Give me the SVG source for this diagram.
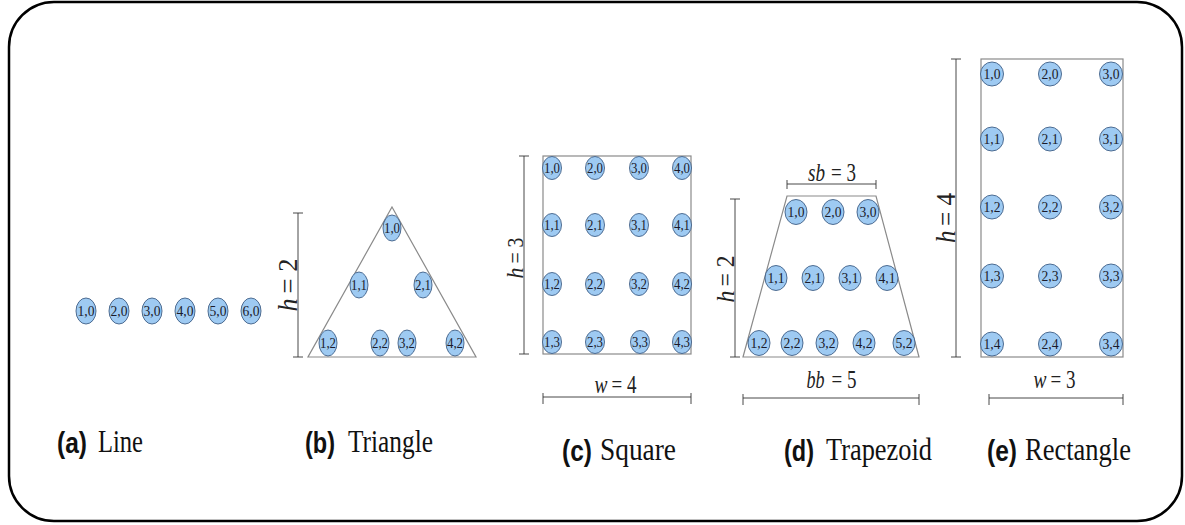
<svg xmlns="http://www.w3.org/2000/svg" width="1185" height="525" viewBox="0 0 1185 525">
<style>
.node ellipse{fill:#9ecaf2;stroke:#3f5f86;stroke-width:0.9}
.node text{font-family:"Liberation Serif",serif;font-size:15px;fill:#1b1b2b;text-anchor:middle;dominant-baseline:central}
.shape{fill:none;stroke:#8a8a8a;stroke-width:1.2}
.dim{stroke:#333;stroke-width:0.9;fill:none}
.math{font-family:"Liberation Serif",serif;fill:#222}
.var{font-style:italic;text-anchor:end}
.cap{font-family:"Liberation Serif",serif;font-size:32px;fill:#111}
.lab{font-family:"Liberation Sans",sans-serif;font-weight:bold;font-size:29px;fill:#111}
</style>
<rect x="9" y="2" width="1173" height="519" rx="45" ry="45" fill="#fff" stroke="#000" stroke-width="2.5"/>

<g id="shapes">
<polygon class="shape" points="392,207 476,357 308,357"/>
<rect class="shape" x="543" y="156" width="148" height="198"/>
<polygon class="shape" points="787,196 876,196 919,357 743,357"/>
<rect class="shape" x="981" y="59" width="142" height="298"/>
</g>

<g id="connectors">
<path class="dim" d="M298,213 V357 M293,213 H303 M293,357 H303"/>
<path class="dim" d="M524,156 V354 M519,156 H529 M519,354 H529"/>
<path class="dim" d="M543,397 H691 M543,393 V404 M691,393 V404"/>
<path class="dim" d="M787,184 H876 M787,180 V189 M876,180 V189"/>
<path class="dim" d="M735,199 V357 M730,199 H740 M730,357 H740"/>
<path class="dim" d="M743,398 H919 M743,394 V405 M919,394 V405"/>
<path class="dim" d="M956,59 V357 M951,59 H961 M951,357 H961"/>
<path class="dim" d="M989,398 H1123 M989,394 V405 M1123,394 V405"/>
</g>

<g id="dim-labels">
<g transform="translate(297,285) rotate(-90)" class="math" font-size="28">
<text class="var" x="-13.5" y="0" textLength="13" lengthAdjust="spacingAndGlyphs">h</text>
<text x="-8.5" y="0" textLength="35" lengthAdjust="spacingAndGlyphs">= 2</text>
</g>
<g transform="translate(523,258) rotate(-90)" class="math" font-size="24">
<text class="var" x="-9.5" y="0" textLength="11" lengthAdjust="spacingAndGlyphs">h</text>
<text x="-5.5" y="0" textLength="26" lengthAdjust="spacingAndGlyphs">= 3</text>
</g>
<g transform="translate(734,279) rotate(-90)" class="math" font-size="26">
<text class="var" x="-11.5" y="0" textLength="12" lengthAdjust="spacingAndGlyphs">h</text>
<text x="-7.5" y="0" textLength="31" lengthAdjust="spacingAndGlyphs">= 2</text>
</g>
<g transform="translate(955,218) rotate(-90)" class="math" font-size="27">
<text class="var" x="-12.5" y="0" textLength="12.5" lengthAdjust="spacingAndGlyphs">h</text>
<text x="-8" y="0" textLength="33" lengthAdjust="spacingAndGlyphs">= 4</text>
</g>
<g class="math" font-size="25">
<text class="var" x="607.5" y="393" textLength="13" lengthAdjust="spacingAndGlyphs">w</text>
<text x="611.5" y="393" textLength="25" lengthAdjust="spacingAndGlyphs">= 4</text>
<text class="var" x="825" y="181" textLength="17" lengthAdjust="spacingAndGlyphs">sb</text>
<text x="831" y="181" textLength="25" lengthAdjust="spacingAndGlyphs">= 3</text>
<text class="var" x="824.5" y="388" textLength="18" lengthAdjust="spacingAndGlyphs">bb</text>
<text x="831.5" y="388" textLength="25" lengthAdjust="spacingAndGlyphs">= 5</text>
<text class="var" x="1046.5" y="388" textLength="13" lengthAdjust="spacingAndGlyphs">w</text>
<text x="1050.5" y="388" textLength="25" lengthAdjust="spacingAndGlyphs">= 3</text>
</g>
</g>

<g id="a-1-0" class="node"><ellipse cx="86" cy="311" rx="10" ry="13"/><text x="86" y="311" textLength="17" lengthAdjust="spacingAndGlyphs">1,0</text></g>
<g id="a-2-0" class="node"><ellipse cx="119" cy="311" rx="10" ry="13"/><text x="119" y="311" textLength="17" lengthAdjust="spacingAndGlyphs">2,0</text></g>
<g id="a-3-0" class="node"><ellipse cx="152" cy="311" rx="10" ry="13"/><text x="152" y="311" textLength="17" lengthAdjust="spacingAndGlyphs">3,0</text></g>
<g id="a-4-0" class="node"><ellipse cx="185" cy="311" rx="10" ry="13"/><text x="185" y="311" textLength="17" lengthAdjust="spacingAndGlyphs">4,0</text></g>
<g id="a-5-0" class="node"><ellipse cx="218" cy="311" rx="10" ry="13"/><text x="218" y="311" textLength="17" lengthAdjust="spacingAndGlyphs">5,0</text></g>
<g id="a-6-0" class="node"><ellipse cx="251" cy="311" rx="10" ry="13"/><text x="251" y="311" textLength="17" lengthAdjust="spacingAndGlyphs">6,0</text></g>

<g id="b-1-0" class="node"><ellipse cx="392" cy="228" rx="9" ry="13"/><text x="392" y="228" textLength="16" lengthAdjust="spacingAndGlyphs">1,0</text></g>
<g id="b-1-1" class="node"><ellipse cx="359" cy="285" rx="9" ry="13"/><text x="359" y="285" textLength="16" lengthAdjust="spacingAndGlyphs">1,1</text></g>
<g id="b-2-1" class="node"><ellipse cx="423" cy="285" rx="9" ry="13"/><text x="423" y="285" textLength="16" lengthAdjust="spacingAndGlyphs">2,1</text></g>
<g id="b-1-2" class="node"><ellipse cx="328" cy="343" rx="9" ry="13"/><text x="328" y="343" textLength="16" lengthAdjust="spacingAndGlyphs">1,2</text></g>
<g id="b-2-2" class="node"><ellipse cx="380" cy="343" rx="9" ry="13"/><text x="380" y="343" textLength="16" lengthAdjust="spacingAndGlyphs">2,2</text></g>
<g id="b-3-2" class="node"><ellipse cx="407" cy="343" rx="9" ry="13"/><text x="407" y="343" textLength="16" lengthAdjust="spacingAndGlyphs">3,2</text></g>
<g id="b-4-2" class="node"><ellipse cx="455" cy="343" rx="9" ry="13"/><text x="455" y="343" textLength="16" lengthAdjust="spacingAndGlyphs">4,2</text></g>

<g id="c-1-0" class="node"><ellipse cx="552" cy="168" rx="9.5" ry="11.5"/><text x="552" y="168" textLength="16" lengthAdjust="spacingAndGlyphs">1,0</text></g>
<g id="c-2-0" class="node"><ellipse cx="595" cy="168" rx="9.5" ry="11.5"/><text x="595" y="168" textLength="16" lengthAdjust="spacingAndGlyphs">2,0</text></g>
<g id="c-3-0" class="node"><ellipse cx="639" cy="168" rx="9.5" ry="11.5"/><text x="639" y="168" textLength="16" lengthAdjust="spacingAndGlyphs">3,0</text></g>
<g id="c-4-0" class="node"><ellipse cx="682" cy="168" rx="9.5" ry="11.5"/><text x="682" y="168" textLength="16" lengthAdjust="spacingAndGlyphs">4,0</text></g>
<g id="c-1-1" class="node"><ellipse cx="552" cy="225" rx="9.5" ry="11.5"/><text x="552" y="225" textLength="16" lengthAdjust="spacingAndGlyphs">1,1</text></g>
<g id="c-2-1" class="node"><ellipse cx="595" cy="225" rx="9.5" ry="11.5"/><text x="595" y="225" textLength="16" lengthAdjust="spacingAndGlyphs">2,1</text></g>
<g id="c-3-1" class="node"><ellipse cx="639" cy="225" rx="9.5" ry="11.5"/><text x="639" y="225" textLength="16" lengthAdjust="spacingAndGlyphs">3,1</text></g>
<g id="c-4-1" class="node"><ellipse cx="682" cy="225" rx="9.5" ry="11.5"/><text x="682" y="225" textLength="16" lengthAdjust="spacingAndGlyphs">4,1</text></g>
<g id="c-1-2" class="node"><ellipse cx="552" cy="284" rx="9.5" ry="11.5"/><text x="552" y="284" textLength="16" lengthAdjust="spacingAndGlyphs">1,2</text></g>
<g id="c-2-2" class="node"><ellipse cx="595" cy="284" rx="9.5" ry="11.5"/><text x="595" y="284" textLength="16" lengthAdjust="spacingAndGlyphs">2,2</text></g>
<g id="c-3-2" class="node"><ellipse cx="639" cy="284" rx="9.5" ry="11.5"/><text x="639" y="284" textLength="16" lengthAdjust="spacingAndGlyphs">3,2</text></g>
<g id="c-4-2" class="node"><ellipse cx="682" cy="284" rx="9.5" ry="11.5"/><text x="682" y="284" textLength="16" lengthAdjust="spacingAndGlyphs">4,2</text></g>
<g id="c-1-3" class="node"><ellipse cx="552" cy="342" rx="9.5" ry="11.5"/><text x="552" y="342" textLength="16" lengthAdjust="spacingAndGlyphs">1,3</text></g>
<g id="c-2-3" class="node"><ellipse cx="595" cy="342" rx="9.5" ry="11.5"/><text x="595" y="342" textLength="16" lengthAdjust="spacingAndGlyphs">2,3</text></g>
<g id="c-3-3" class="node"><ellipse cx="640" cy="342" rx="9.5" ry="11.5"/><text x="640" y="342" textLength="16" lengthAdjust="spacingAndGlyphs">3,3</text></g>
<g id="c-4-3" class="node"><ellipse cx="682" cy="342" rx="9.5" ry="11.5"/><text x="682" y="342" textLength="16" lengthAdjust="spacingAndGlyphs">4,3</text></g>

<g id="d-1-0" class="node"><ellipse cx="796" cy="212" rx="11" ry="12.5"/><text x="796" y="212" textLength="17" lengthAdjust="spacingAndGlyphs">1,0</text></g>
<g id="d-2-0" class="node"><ellipse cx="833" cy="212" rx="11" ry="12.5"/><text x="833" y="212" textLength="17" lengthAdjust="spacingAndGlyphs">2,0</text></g>
<g id="d-3-0" class="node"><ellipse cx="868" cy="212" rx="11" ry="12.5"/><text x="868" y="212" textLength="17" lengthAdjust="spacingAndGlyphs">3,0</text></g>
<g id="d-1-1" class="node"><ellipse cx="776" cy="278" rx="11" ry="12.5"/><text x="776" y="278" textLength="17" lengthAdjust="spacingAndGlyphs">1,1</text></g>
<g id="d-2-1" class="node"><ellipse cx="813" cy="278" rx="11" ry="12.5"/><text x="813" y="278" textLength="17" lengthAdjust="spacingAndGlyphs">2,1</text></g>
<g id="d-3-1" class="node"><ellipse cx="850" cy="278" rx="11" ry="12.5"/><text x="850" y="278" textLength="17" lengthAdjust="spacingAndGlyphs">3,1</text></g>
<g id="d-4-1" class="node"><ellipse cx="887" cy="278" rx="11" ry="12.5"/><text x="887" y="278" textLength="17" lengthAdjust="spacingAndGlyphs">4,1</text></g>
<g id="d-1-2" class="node"><ellipse cx="759" cy="343" rx="11" ry="12.5"/><text x="759" y="343" textLength="17" lengthAdjust="spacingAndGlyphs">1,2</text></g>
<g id="d-2-2" class="node"><ellipse cx="792" cy="343" rx="11" ry="12.5"/><text x="792" y="343" textLength="17" lengthAdjust="spacingAndGlyphs">2,2</text></g>
<g id="d-3-2" class="node"><ellipse cx="827" cy="343" rx="11" ry="12.5"/><text x="827" y="343" textLength="17" lengthAdjust="spacingAndGlyphs">3,2</text></g>
<g id="d-4-2" class="node"><ellipse cx="864" cy="343" rx="11" ry="12.5"/><text x="864" y="343" textLength="17" lengthAdjust="spacingAndGlyphs">4,2</text></g>
<g id="d-5-2" class="node"><ellipse cx="904" cy="343" rx="11" ry="12.5"/><text x="904" y="343" textLength="17" lengthAdjust="spacingAndGlyphs">5,2</text></g>

<g id="e-1-0" class="node"><ellipse cx="992" cy="74" rx="11.5" ry="12"/><text x="992" y="74" textLength="17" lengthAdjust="spacingAndGlyphs">1,0</text></g>
<g id="e-2-0" class="node"><ellipse cx="1050" cy="74" rx="11.5" ry="12"/><text x="1050" y="74" textLength="17" lengthAdjust="spacingAndGlyphs">2,0</text></g>
<g id="e-3-0" class="node"><ellipse cx="1111" cy="74" rx="11.5" ry="12"/><text x="1111" y="74" textLength="17" lengthAdjust="spacingAndGlyphs">3,0</text></g>
<g id="e-1-1" class="node"><ellipse cx="992" cy="139" rx="11.5" ry="12"/><text x="992" y="139" textLength="17" lengthAdjust="spacingAndGlyphs">1,1</text></g>
<g id="e-2-1" class="node"><ellipse cx="1050" cy="139" rx="11.5" ry="12"/><text x="1050" y="139" textLength="17" lengthAdjust="spacingAndGlyphs">2,1</text></g>
<g id="e-3-1" class="node"><ellipse cx="1111" cy="139" rx="11.5" ry="12"/><text x="1111" y="139" textLength="17" lengthAdjust="spacingAndGlyphs">3,1</text></g>
<g id="e-1-2" class="node"><ellipse cx="992" cy="207" rx="11.5" ry="12"/><text x="992" y="207" textLength="17" lengthAdjust="spacingAndGlyphs">1,2</text></g>
<g id="e-2-2" class="node"><ellipse cx="1050" cy="207" rx="11.5" ry="12"/><text x="1050" y="207" textLength="17" lengthAdjust="spacingAndGlyphs">2,2</text></g>
<g id="e-3-2" class="node"><ellipse cx="1111" cy="207" rx="11.5" ry="12"/><text x="1111" y="207" textLength="17" lengthAdjust="spacingAndGlyphs">3,2</text></g>
<g id="e-1-3" class="node"><ellipse cx="992" cy="276" rx="11.5" ry="12"/><text x="992" y="276" textLength="17" lengthAdjust="spacingAndGlyphs">1,3</text></g>
<g id="e-2-3" class="node"><ellipse cx="1050" cy="276" rx="11.5" ry="12"/><text x="1050" y="276" textLength="17" lengthAdjust="spacingAndGlyphs">2,3</text></g>
<g id="e-3-3" class="node"><ellipse cx="1111" cy="276" rx="11.5" ry="12"/><text x="1111" y="276" textLength="17" lengthAdjust="spacingAndGlyphs">3,3</text></g>
<g id="e-1-4" class="node"><ellipse cx="992" cy="344" rx="11.5" ry="12"/><text x="992" y="344" textLength="17" lengthAdjust="spacingAndGlyphs">1,4</text></g>
<g id="e-2-4" class="node"><ellipse cx="1050" cy="344" rx="11.5" ry="12"/><text x="1050" y="344" textLength="17" lengthAdjust="spacingAndGlyphs">2,4</text></g>
<g id="e-3-4" class="node"><ellipse cx="1111" cy="344" rx="11.5" ry="12"/><text x="1111" y="344" textLength="17" lengthAdjust="spacingAndGlyphs">3,4</text></g>

<g id="captions">
<text class="lab" x="57" y="453" textLength="30" lengthAdjust="spacingAndGlyphs">(a)</text>
<text class="cap" x="98" y="452" textLength="45" lengthAdjust="spacingAndGlyphs">Line</text>
<text class="lab" x="305" y="453" textLength="30" lengthAdjust="spacingAndGlyphs">(b)</text>
<text class="cap" x="348" y="452" textLength="85" lengthAdjust="spacingAndGlyphs">Triangle</text>
<text class="lab" x="562" y="461" textLength="30" lengthAdjust="spacingAndGlyphs">(c)</text>
<text class="cap" x="600" y="460" textLength="76" lengthAdjust="spacingAndGlyphs">Square</text>
<text class="lab" x="784" y="461" textLength="30" lengthAdjust="spacingAndGlyphs">(d)</text>
<text class="cap" x="826" y="460" textLength="106" lengthAdjust="spacingAndGlyphs">Trapezoid</text>
<text class="lab" x="987" y="461" textLength="30" lengthAdjust="spacingAndGlyphs">(e)</text>
<text class="cap" x="1025" y="460" textLength="106" lengthAdjust="spacingAndGlyphs">Rectangle</text>
</g>
</svg>
